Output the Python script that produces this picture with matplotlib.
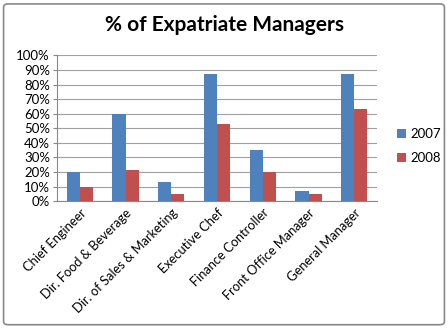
import matplotlib.pyplot as plt
import numpy as np
from matplotlib.patches import FancyBboxPatch
from matplotlib.ticker import PercentFormatter

plt.rcParams['font.family'] = ['Lato', 'DejaVu Sans']

positions = ['Chief Engineer', 'Dir. Food & Beverage', 'Dir. of Sales & Marketing',
             'Executive Chef', 'Finance Controller', 'Front Office Manager',
             'General Manager']
share_2007 = [20, 60, 13, 87, 35, 7, 87]
share_2008 = [10, 21, 5, 53, 20, 5, 63]

blue = '#4f81bd'
red = '#c0504d'

fig = plt.figure(figsize=(4.48, 3.28), dpi=100)
ax = fig.add_axes([0.127, 0.387, 0.715, 0.444])

x = np.arange(len(positions))
w = 0.286
ax.bar(x - w / 2, np.array(share_2007) / 100, w, color=blue, label='2007', zorder=3)
ax.bar(x + w / 2, np.array(share_2008) / 100, w, color=red, label='2008', zorder=3)

ax.set_xlim(-0.5, len(positions) - 0.5)
ax.set_ylim(0, 1)
ax.set_yticks(np.arange(0, 1.01, 0.1))
ax.yaxis.set_major_formatter(PercentFormatter(1.0, decimals=0))
ax.grid(axis='y', color='#a0a0a0', linewidth=0.8, zorder=0)
ax.set_xticks(x)
ax.set_xticklabels(positions, rotation=45, ha='right', rotation_mode='anchor', fontsize=9.3)
ax.tick_params(axis='y', labelsize=9.5, length=3, color='#888888', pad=2)
ax.tick_params(axis='x', length=0, pad=4)
for s in ['top', 'right']:
    ax.spines[s].set_visible(False)
for s in ['left', 'bottom']:
    ax.spines[s].set_color('#888888')

fig.legend(loc='center left', bbox_to_anchor=(0.86, 0.555), frameon=False,
           fontsize=9.5, handlelength=0.7, handleheight=0.7, handletextpad=0.3,
           labelspacing=0.9)

fig.text(0.5, 0.925, '% of Expatriate Managers', ha='center', va='center',
         fontsize=15, fontweight='bold')

border = FancyBboxPatch((0.008, 0.01), 0.984, 0.978, boxstyle='round,pad=0,rounding_size=0.01',
                        transform=fig.transFigure, fill=False, edgecolor='#888888', linewidth=1.2)
fig.patches.append(border)

fig.savefig('out.png', dpi=100)
